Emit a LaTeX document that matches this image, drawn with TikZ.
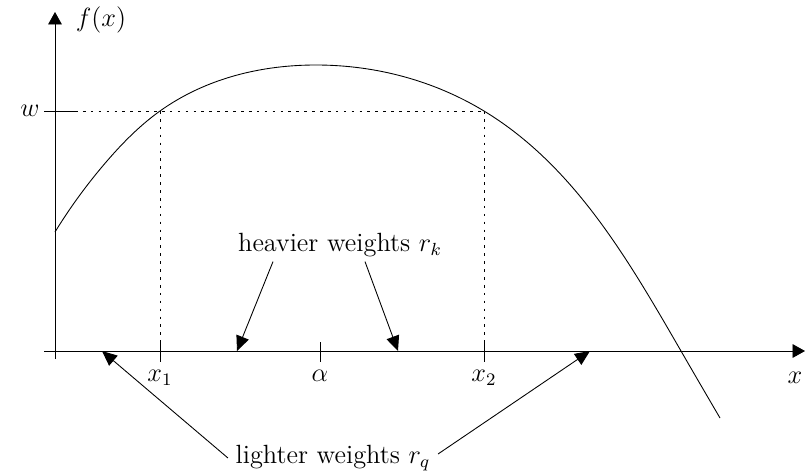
\documentclass[tikz,border=0pt]{standalone}
\usepackage{amsmath}
\usepackage{tikz}
\usetikzlibrary{
  arrows.meta,
  positioning,
  calc,
  hobby
}

\begin{document}
\begin{tikzpicture}[x=0.016cm, y=-0.016cm,
  every node/.style={font=\large},
  axisline/.style={-{Triangle[length=2mm,width=2.2mm]}},
  pointer/.style={-{Triangle[length=2.4mm,width=2.1mm]}},
  guide/.style={dash pattern=on 1.2pt off 2.4pt},
  tick/.style={thin}]
  \useasboundingbox (0,0) rectangle (805,474);

  % Axes
  \draw[axisline] (44,351) -- (805,351) coordinate (xend);
  \draw[axisline] (55,359) -- (55,12) coordinate (yend);
  \node (fx) at (101,20) {$f(x)$};
  \node (xl) at (795,378) {$x$};

  % Level w and the two crossings
  \coordinate (xa) at (160,111);
  \coordinate (xb) at (484,111);
  \draw[tick] (44,111) -- (75,111);
  \node (wl) at (30,111) {$w$};
  \draw[guide] (75,111) -- (xb);
  \draw[guide] (xa) -- (160,351);
  \draw[guide] (xb) -- (484,351);

  % Ticks on the x axis
  \foreach \px/\name/\lbl in {160/xone/x_1, 320/alpha/\alpha, 484/xtwo/x_2}{
    \draw[tick] (\px,342) -- (\px,362) coordinate (\name);
    \node[below=0pt of \name] (\name l) {$\lbl$};
  }

  % The function
  \draw[use Hobby shortcut] (55,232) .. (107,161) .. (160,111) .. (318,65)
    .. (484,111) .. (681,351) .. (720,418);

  % Weights
  \coordinate (hk1) at (237,351);
  \coordinate (hk2) at (398,351);
  \coordinate (lq1) at (102,351);
  \coordinate (lq2) at (590,351);

  \node (hv) at (340,245) {heavier weights $r_k$};
  \draw[pointer] ($(hv.south)+(-67,-3)$) -- (hk1);
  \draw[pointer] ($(hv.south)+(25,-3)$) -- (hk2);

  \node (lt) at (333,458) {lighter weights $r_q$};
  \draw[pointer] (lt.west) -- (lq1);
  \draw[pointer] ($(lt.east)+(0,-4)$) -- (lq2);
\end{tikzpicture}
\end{document}
